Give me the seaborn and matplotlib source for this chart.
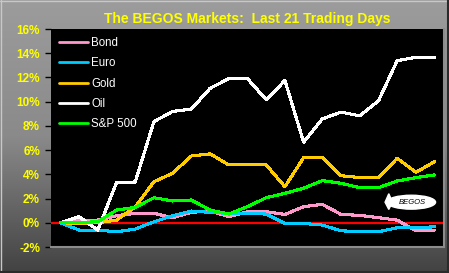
import numpy as np
import pandas as pd
import matplotlib
matplotlib.use("Agg")
import matplotlib.pyplot as plt
from matplotlib.colors import LinearSegmentedColormap
from matplotlib.patches import Ellipse, Polygon
from matplotlib.lines import Line2D
import seaborn as sns

days = list(range(21))
bond = [0, 0.2, 0.22, 0.58, 0.78, 0.78, 0.42, 0.86, 0.99, 0.5, 0.91,
        0.91, 0.69, 1.33, 1.52, 0.69, 0.61, 0.42, 0.22, -0.66, -0.6]
euro = [0, -0.6, -0.6, -0.74, -0.52, 0.08, 0.58, 0.97, 0.86, 0.78, 0.78,
        0.72, -0.05, -0.05, -0.19, -0.66, -0.74, -0.74, -0.41, -0.41, -0.33]
gold = [0, -0.05, 0.0, 0.22, 1.3, 3.39, 4.09, 5.52, 5.69, 4.78, 4.78,
        4.78, 2.98, 5.38, 5.38, 3.89, 3.73, 3.73, 5.33, 4.17, 5.05]
oil = [0, 0.5, -0.6, 3.31, 3.37, 8.36, 9.19, 9.39, 11.1, 11.9, 11.9,
       10.16, 11.75, 6.65, 8.58, 9.14, 8.83, 10.07, 13.39, 13.66, 13.66]
spx = [0, 0.03, 0.08, 1.05, 1.27, 2.07, 1.8, 1.88, 1.05, 0.72, 1.33,
       2.07, 2.43, 2.85, 3.48, 3.26, 2.9, 2.9, 3.45, 3.73, 3.95]
series_names = ["Bond", "Euro", "Gold", "Oil", "S&P 500"]
series_colors = ["#FF99CC", "#00CCFF", "#FFCC00", "#FFFFFF", "#00FF00"]
y_ticks = [-2, 0, 2, 4, 6, 8, 10, 12, 14, 16]
title = "The BEGOS Markets:  Last 21 Trading Days"

df = pd.DataFrame({
    "day": days * 5,
    "value": bond + euro + gold + oil + spx,
    "series": sum([[n] * len(days) for n in series_names], []),
})

sns.set_style("dark")
plt.rcParams["font.family"] = ["Liberation Sans", "DejaVu Sans"]

W, H = 449, 273
fig = plt.figure(figsize=(W / 100, H / 100), dpi=100)

# gradient background
bg = fig.add_axes([0, 0, 1, 1], zorder=-10)
grad = np.linspace(0, 1, 256).reshape(-1, 1)
cmap = LinearSegmentedColormap.from_list("g", ["#9c9c9c", "#8a8a8a", "#424242"])
bg.imshow(grad, aspect="auto", cmap=cmap, extent=[0, 1, 0, 1], origin="upper")
bg.set_xlim(0, 1)
bg.set_ylim(0, 1)
bg.axis("off")

left, right, top, bottom = 51 / W, 444 / W, 1 - 29 / H, 1 - 247 / H
ax = fig.add_axes([left, bottom, right - left, top - bottom])
ax.set_facecolor("black")

ax.axhline(0, color="#FF0000", lw=1.6, zorder=1)
sns.lineplot(data=df, x="day", y="value", hue="series", hue_order=series_names,
             palette=series_colors, linewidth=1.5, ax=ax, zorder=2,
             antialiased=False)

ax.set_xlim(-0.5, 20.5)
ax.set_ylim(-2, 16)
ax.set_yticks(y_ticks)
ax.set_yticklabels([f"{t}%" for t in y_ticks], color="#FFFF00",
                   fontweight="bold", fontsize=8.5)
ax.set_xticks([])
ax.set_xlabel("")
ax.set_ylabel("")
ax.grid(False)
ax.tick_params(axis="y", length=4.5, width=1, color="black", pad=3.5, left=True)
for s in ["left", "top"]:
    ax.spines[s].set_visible(False)
for s in ["right", "bottom"]:
    ax.spines[s].set_visible(True)
    ax.spines[s].set_color("#8c8c8c")
    ax.spines[s].set_linewidth(1.5)

ax.set_title(title, color="#FFFF00", fontweight="bold", fontsize=10, pad=4)

leg = ax.legend(loc="upper left", frameon=False, fontsize=8.3, handlelength=2.5,
                handletextpad=0.3, labelspacing=0.72, borderaxespad=0.3,
                bbox_to_anchor=(0.0, 1.0))
for t in leg.get_texts():
    t.set_color("white")
for h in leg.get_lines():
    h.set_linewidth(2)

# BEGOS blimp logo
ax.add_patch(Ellipse((18.75, 1.7), 2.6, 1.15, color="white", zorder=3))
ax.add_patch(Polygon([[17.35, 1.7], [17.55, 2.4], [17.75, 1.7], [17.55, 1.1]],
                     closed=True, color="white", zorder=3))
ax.text(18.8, 1.68, "BEGOS", fontsize=5.5, fontstyle="italic", color="black",
        ha="center", va="center", zorder=4)

# figure border bevel
fig.add_artist(Line2D([0, 1], [1 - 0.5 / H, 1 - 0.5 / H], color="#c8c8c8", lw=1,
                      transform=fig.transFigure))
fig.add_artist(Line2D([0.5 / W, 0.5 / W], [0, 1], color="#c8c8c8", lw=1,
                      transform=fig.transFigure))
fig.add_artist(Line2D([1 - 1 / W, 1 - 1 / W], [0, 1], color="#2a2a2a", lw=1.5,
                      transform=fig.transFigure))
fig.add_artist(Line2D([0, 1], [1 / H, 1 / H], color="#2a2a2a", lw=1.5,
                      transform=fig.transFigure))

fig.savefig("out.png", dpi=100)
